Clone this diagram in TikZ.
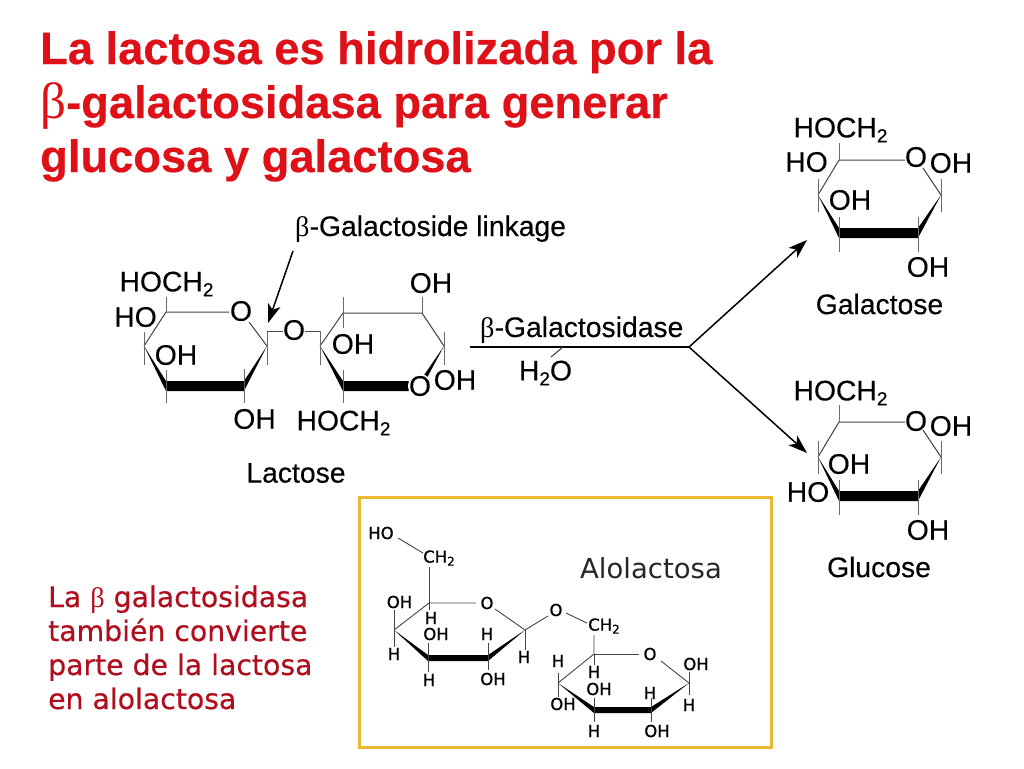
\documentclass[tikz,border=0pt]{standalone}
\usepackage{fontspec}
\setmainfont{Liberation Sans}
\newfontfamily\betafont{Liberation Serif}
\newfontfamily\verdfont{DejaVu Sans}
\usetikzlibrary{arrows.meta}
\definecolor{titlered}{HTML}{DE1018}
\definecolor{notered}{HTML}{B00E1E}
\definecolor{boxgold}{HTML}{EAB92F}
\definecolor{bondgray}{HTML}{444444}
\newcommand{\betaL}{{\betafont β}}
\newcommand{\subtwo}{\raisebox{-5pt}{\fontsize{19}{19}\selectfont 2}}
\newcommand{\subtwosm}{\raisebox{-3pt}{\fontsize{12}{12}\selectfont 2}}
% thick front edge of a ring: left, front left, front right, right, half width
\newcommand{\ringbase}[5]{\fill (#1) -- ([yshift=#5]#2) -- ([yshift=#5]#3) -- (#4)
  -- ([yshift=-#5]#3) -- ([yshift=-#5]#2) -- cycle;}
\begin{document}
\begin{tikzpicture}[x=1pt,y=-1pt,
    lab/.style={inner sep=0pt,font=\addfontfeature{FakeBold=0.25}\fontsize{28.3}{28}\selectfont},
    sm/.style={inner sep=0pt,font=\verdfont\addfontfeature{FakeBold=0.4}\fontsize{16.5}{17}\selectfont},
    bond/.style={draw=bondgray,line width=1pt},
    tick/.style={draw=bondgray!80,line width=1pt},
    smbond/.style={draw=bondgray,line width=0.9pt},
    head/.style={line width=1.5pt,-{Stealth[length=19pt,width=13pt,inset=5pt]}}]
  \useasboundingbox (0,0) rectangle (1024,768);

  % titulo
  \begin{scope}[every node/.style={anchor=base west,inner sep=0pt,text=titlered,font=\bfseries\addfontfeature{FakeBold=0.4}\fontsize{45.3}{45}\selectfont}]
    \node (title1) at (40,64) {La lactosa es hidrolizada por la};
    \node (title2) at (40,118) {{\mdseries\fontsize{51}{45}\selectfont\betaL}-galactosidasa para generar};
    \node (title3) at (40,172) {glucosa y galactosa};
  \end{scope}

  % nota
  \begin{scope}[every node/.style={anchor=base west,inner sep=0pt,text=notered,font=\verdfont\addfontfeature{FakeBold=0.5}\fontsize{28.3}{28}\selectfont}]
    \node (note1) at (48,607) {La \betaL\ galactosidasa};
    \node (note2) at (48,641) {también convierte};
    \node (note3) at (48,675) {parte de la lactosa};
    \node (note4) at (48,709) {en alolactosa};
  \end{scope}

  \draw[boxgold,line width=3pt] (359.5,497.5) rectangle (771,747);

  % lactosa
  \coordinate (a1) at (166,312);
  \coordinate (a2) at (267,346);
  \coordinate (a3) at (244,386);
  \coordinate (a4) at (166,386);
  \coordinate (a5) at (144,346);
  \coordinate (b1) at (343,313);
  \coordinate (b2) at (422,313);
  \coordinate (b3) at (444,346);
  \coordinate (b4) at (420,386);
  \coordinate (b5) at (343,386);
  \coordinate (b6) at (320,346);
  \draw[bond] (a5) -- (a1) -- (229,312);
  \draw[bond] (249,322) -- (a2);
  \draw[bond] (b6) -- (b1) -- (b2) -- (b3);
  \ringbase{a5}{a4}{a3}{a2}{5pt}
  \ringbase{b6}{b5}{b4}{b3}{5pt}
  \foreach \px/\ya/\yb in {166/297/312,144/332/365,267/331/365,166/370/403,244/369/403,
      320/331/365,343/297/328,422/297/313,444/332/365,343/370/403}
    \draw[tick] (\px,\ya) -- (\px,\yb);
  \draw[bond] (267,331) -- (283,331);
  \draw[bond] (305,331) -- (320,331);
  \node[lab] (lacHoch) at (166.5,284) {HOCH\subtwo};
  \node[lab] (lacHo) at (135.5,317) {HO};
  \node[lab] (lacO) at (241,311) {O};
  \node[lab] (lacOha) at (176,355) {OH};
  \node[lab] (lacOhb) at (254.5,419) {OH};
  \node[lab] (lacLink) at (294,330) {O};
  \node[lab] (lacOhc) at (431,283) {OH};
  \node[lab] (lacOhd) at (353,344) {OH};
  \node[lab] (lacOhe) at (455,380) {OH};
  \node[lab,fill=white,circle,inner sep=-2pt] (lacOb) at (420,386) {O};
  \node[lab] (lacHochb) at (343.5,423) {HOCH\subtwo};
  \node[lab] (lactose) at (296,473) {Lactose};
  \node[lab,anchor=base west] (linkage) at (295,236) {\betaL-Galactoside linkage};
  \coordinate (linkTail) at (293,251);
  \coordinate (linkTip) at (268,323);
  \draw[head] (linkTail) -- (linkTip);

  % reaccion
  \coordinate (feed) at (470,347);
  \coordinate (branch) at (689,347);
  \coordinate (toGal) at (807,240);
  \coordinate (toGlu) at (807,453);
  \coordinate (waterA) at (563,347);
  \coordinate (waterB) at (551,357);
  \draw[line width=1.6pt] (feed) -- (branch);
  \draw[bond,line width=1.1pt] (waterA) -- (waterB);
  \draw[head] (branch) -- (toGal);
  \draw[head] (branch) -- (toGlu);
  \node[lab,anchor=base west] (enzyme) at (480,337) {\betaL-Galactosidase};
  \node[lab] (water) at (545.5,373) {H\subtwo O};

  % galactosa
  \coordinate (c1) at (839,160);
  \coordinate (c2) at (941,195);
  \coordinate (c3) at (918,233);
  \coordinate (c4) at (839,233);
  \coordinate (c5) at (818,195);
  \draw[bond] (c5) -- (c1) -- (905,160);
  \draw[bond] (923,168) -- (c2);
  \ringbase{c5}{c4}{c3}{c2}{5pt}
  \foreach \px/\ya/\yb in {839/143/160,818/179/212,941/179/212,839/217/252,918/217/252}
    \draw[tick] (\px,\ya) -- (\px,\yb);
  \node[lab] (galHoch) at (840.5,130) {HOCH\subtwo};
  \node[lab] (galHo) at (806.5,162) {HO};
  \node[lab] (galO) at (916,157) {O};
  \node[lab] (galOha) at (951,163) {OH};
  \node[lab] (galOhb) at (850,200) {OH};
  \node[lab] (galOhc) at (928,267) {OH};
  \node[lab] (galactose) at (879.5,304) {Galactose};

  % glucosa
  \coordinate (d1) at (839,422);
  \coordinate (d2) at (941,457);
  \coordinate (d3) at (918,496);
  \coordinate (d4) at (839,496);
  \coordinate (d5) at (818,457);
  \draw[bond] (d5) -- (d1) -- (905,422);
  \draw[bond] (923,430) -- (d2);
  \ringbase{d5}{d4}{d3}{d2}{5pt}
  \foreach \px/\ya/\yb in {839/405/422,818/441/474,941/441/474,839/480/515,918/480/515}
    \draw[tick] (\px,\ya) -- (\px,\yb);
  \node[lab] (gluHoch) at (840.5,393) {HOCH\subtwo};
  \node[lab] (gluO) at (916,421) {O};
  \node[lab] (gluOha) at (951,426) {OH};
  \node[lab] (gluOhb) at (849,464) {OH};
  \node[lab] (gluHo) at (808,492) {HO};
  \node[lab] (gluOhc) at (928,530) {OH};
  \node[lab] (glucose) at (879,567) {Glucose};

  % alolactosa
  \coordinate (e1) at (429,603);
  \coordinate (e2) at (525,630);
  \coordinate (e3) at (488,658);
  \coordinate (e4) at (428,658);
  \coordinate (e5) at (394,630);
  \coordinate (f1) at (594,654);
  \coordinate (f2) at (689,683);
  \coordinate (f3) at (651,710);
  \coordinate (f4) at (594,710);
  \coordinate (f5) at (558,683);
  \draw[smbond] (e5) -- (e1) -- (476,603);
  \draw[smbond] (495,609) -- (e2) -- (548,616);
  \draw[smbond] (566,613) -- (587,623);
  \draw[smbond] (398,538) -- (423,553);
  \draw[smbond] (429,567) -- (e1);
  \draw[smbond] (594,635) -- (f1) -- (f5);
  \draw[smbond] (f1) -- (639,654);
  \draw[smbond] (661,661) -- (f2);
  \ringbase{e5}{e4}{e3}{e2}{3pt}
  \ringbase{f5}{f4}{f3}{f2}{3pt}
  \foreach \px/\ya/\yb in {394/610/647,429/603/610,428/643/672,488/643/670,525/630/650,
      558/673/697,594/654/665,594/698/722,651/698/722,689/672/695}
    \draw[smbond] (\px,\ya) -- (\px,\yb);
  \node[sm] (aloHo) at (381,533) {HO};
  \node[sm] (aloCh) at (439,558) {CH\subtwosm};
  \node[sm] (aloOha) at (399.5,602) {OH};
  \node[sm] (aloHa) at (431,618) {H};
  \node[sm] (aloO) at (487,603) {O};
  \node[sm] (aloOhb) at (436,634) {OH};
  \node[sm] (aloHb) at (487,634) {H};
  \node[sm] (aloHc) at (394,654) {H};
  \node[sm] (aloHd) at (524,657) {H};
  \node[sm] (aloHe) at (429,680) {H};
  \node[sm] (aloOhc) at (493,679) {OH};
  \node[sm] (aloLink) at (556,610) {O};
  \node[sm] (aloChb) at (604,626) {CH\subtwosm};
  \node[sm] (aloOb) at (650,654) {O};
  \node[sm] (aloHf) at (558,661) {H};
  \node[sm] (aloHg) at (594,672) {H};
  \node[sm] (aloOhd) at (599,689) {OH};
  \node[sm] (aloHh) at (650,693) {H};
  \node[sm] (aloOhe) at (696,664) {OH};
  \node[sm] (aloOhf) at (563,704) {OH};
  \node[sm] (aloHi) at (689,705) {H};
  \node[sm] (aloHj) at (594,731) {H};
  \node[sm] (aloOhg) at (657,731) {OH};
  \node[inner sep=0pt,text=black!85,font=\verdfont\fontsize{27.5}{28}\selectfont] (alolactosa) at (651,568) {Alolactosa};
\end{tikzpicture}
\end{document}
